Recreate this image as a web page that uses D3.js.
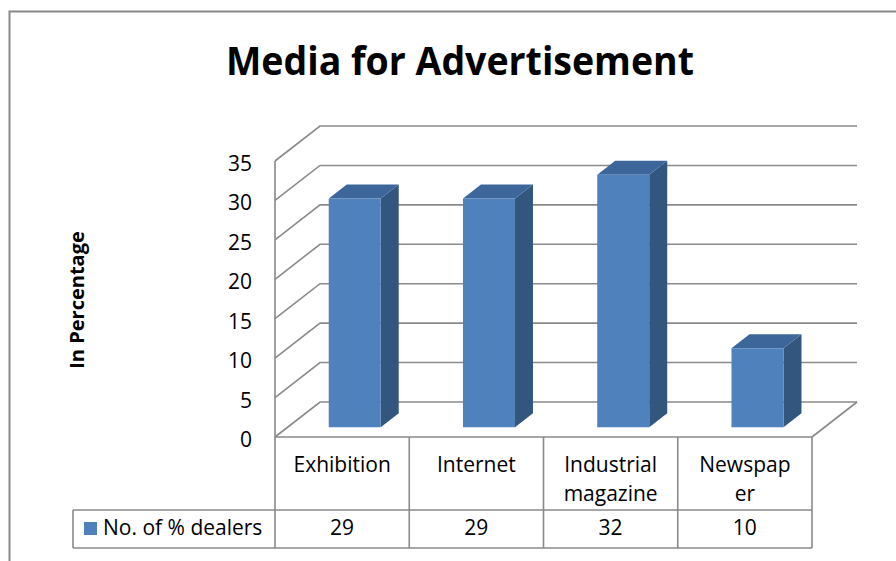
<!DOCTYPE html>
<html>
<head>
<meta charset="utf-8">
<script src="https://cdnjs.cloudflare.com/ajax/libs/d3/7.8.5/d3.min.js"></script>
<style>
  html, body { margin: 0; padding: 0; background: #fff; }
  svg { display: block; }
  text { font-family: "Open Sans", "Noto Sans", sans-serif; fill: #000; }
</style>
</head>
<body>
<svg id="chart" width="896" height="561"></svg>
<script>
// Chart data
const categories = ["Exhibition", "Internet", "Industrial magazine", "Newspaper"];
const categoryLines = [["Exhibition"], ["Internet"], ["Industrial", "magazine"], ["Newspap", "er"]];
const seriesName = "No. of % dealers";
const values = [29, 29, 32, 10];
const yTicks = [0, 5, 10, 15, 20, 25, 30, 35];

const svg = d3.select("#chart");
const gridColor = "#8a8a8a";

// Front plane of the 3D box
const x = d3.scaleBand().domain(categories).range([275, 812]);
const y = d3.scaleLinear().domain([0, 35]).range([437, 161]);

// Depth offsets (z = 1 is the back wall)
const DX = 45, DY = 35;
const proj = (px, v, z) => [px + z * DX, y(v) - z * DY];

// Outer chart border
svg.append("rect")
  .attr("x", 9.5).attr("y", 11.5)
  .attr("width", 900).attr("height", 600)
  .attr("fill", "none").attr("stroke", gridColor).attr("stroke-width", 2);

// Title
svg.append("text")
  .attr("x", 460).attr("y", 75)
  .attr("text-anchor", "middle")
  .attr("font-size", 40).attr("font-weight", "bold")
  .attr("textLength", 468).attr("lengthAdjust", "spacingAndGlyphs")
  .text("Media for Advertisement");

// Y axis title
svg.append("text")
  .attr("transform", "translate(84,300) rotate(-90)")
  .attr("text-anchor", "middle")
  .attr("font-size", 20).attr("font-weight", "bold")
  .text("In Percentage");

// Gridlines: side wall diagonal + back wall line
const x0 = x.range()[0], x1 = x.range()[1];
const grid = svg.append("g").attr("fill", "none").attr("stroke", gridColor).attr("stroke-width", 1.6);
yTicks.forEach(v => {
  const a = proj(x0, v, 0), b = proj(x0, v, 1), c = proj(x1, v, 1);
  grid.append("path").attr("d", d3.line()([a, b, c]));
});
// Left wall front edge and floor edges
grid.append("path").attr("d", d3.line()([proj(x0, 35, 0), proj(x0, 0, 0)]));
grid.append("path").attr("d", d3.line()([proj(x1, 0, 0), proj(x1, 0, 1)]));

// Y tick labels
svg.append("g").selectAll("text").data(yTicks).join("text")
  .attr("x", 252).attr("y", d => y(d) + 10)
  .attr("text-anchor", "end")
  .attr("font-size", 21)
  .text(d => d);

// 3D bars
const z0 = 0.28, z1 = 0.68;
const barW = 52;
const bars = svg.append("g");
categories.forEach((cat, i) => {
  const v = values[i];
  const left = x(cat) + x.bandwidth() / 2 - barW / 2;
  const right = left + barW;
  const fBL = proj(left, 0, z0), fBR = proj(right, 0, z0);
  const fTL = proj(left, v, z0), fTR = proj(right, v, z0);
  const bTL = proj(left, v, z1), bTR = proj(right, v, z1), bBR = proj(right, 0, z1);
  // side face
  bars.append("path").attr("d", d3.line()([fBR, fTR, bTR, bBR]) + "Z").attr("fill", "#33567f");
  // top face
  bars.append("path").attr("d", d3.line()([fTL, fTR, bTR, bTL]) + "Z").attr("fill", "#3d679a");
  // front face
  bars.append("path").attr("d", d3.line()([fBL, fBR, fTR, fTL]) + "Z").attr("fill", "#4f81bd");
});

// Data table below the plot
const tbl = svg.append("g").attr("stroke", gridColor).attr("stroke-width", 1.6).attr("fill", "none");
const rowTop = 437, rowMid = 510, rowBot = 548, legendLeft = 73;
tbl.append("path").attr("d", d3.line()([[x0, rowTop], [x1, rowTop]]));
tbl.append("path").attr("d", d3.line()([[legendLeft, rowMid], [x1, rowMid]]));
tbl.append("path").attr("d", d3.line()([[legendLeft, rowBot], [x1, rowBot]]));
tbl.append("path").attr("d", d3.line()([[legendLeft, rowMid], [legendLeft, rowBot]]));
const colEdges = categories.map(c => x(c)).concat([x1]);
colEdges.forEach(cx => {
  tbl.append("path").attr("d", d3.line()([[cx, rowTop], [cx, rowBot]]));
});

// Category labels
const labels = svg.append("g");
categories.forEach((cat, i) => {
  const cx = x(cat) + x.bandwidth() / 2;
  categoryLines[i].forEach((ln, j) => {
    labels.append("text")
      .attr("x", cx).attr("y", 472 + j * 29)
      .attr("text-anchor", "middle")
      .attr("font-size", 21)
      .text(ln);
  });
  labels.append("text")
    .attr("x", cx).attr("y", 535)
    .attr("text-anchor", "middle")
    .attr("font-size", 21)
    .text(values[i]);
});

// Legend key
svg.append("rect").attr("x", 84).attr("y", 522).attr("width", 13).attr("height", 13).attr("fill", "#4f81bd");
svg.append("text").attr("x", 103).attr("y", 535).attr("font-size", 21).text(seriesName);
</script>
</body>
</html>
